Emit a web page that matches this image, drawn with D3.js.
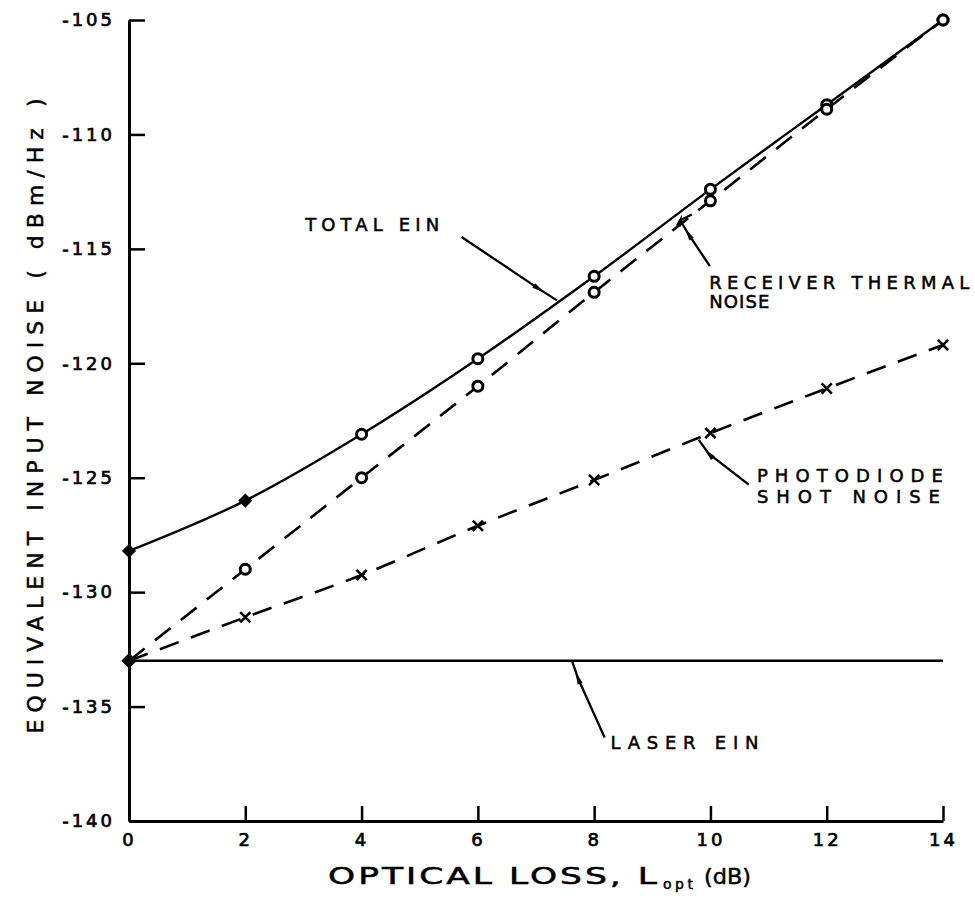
<!DOCTYPE html>
<html><head><meta charset="utf-8">
<script src="https://cdn.jsdelivr.net/npm/d3@7/dist/d3.min.js"></script>
<style>
html,body{margin:0;padding:0;background:#fff;}
svg text{font-family:"DejaVu Sans",sans-serif;fill:#000;}
</style></head>
<body>
<svg id="chart" width="975" height="903"></svg>
<script>
// ---- data ----
const xValues = [0, 2, 4, 6, 8, 10, 12, 14];
const totalEIN = [-128.2, -126.0, -123.1, -119.8, -116.2, -112.4, -108.7, -105.0];
const totalMarkers = ["diamond","diamond","circle","circle","circle","circle","circle","circle"];
const receiverThermal = [-133.0, -129.0, -125.0, -121.0, -116.9, -112.9, -108.9, -105.0];
const receiverMarkers = ["none","circle","circle","circle","circle","circle","circle","circle"];
const shotNoise = [-133.0, -131.1, -129.25, -127.1, -125.1, -123.05, -121.1, -119.2];
const shotMarkers = ["none","cross","cross","cross","cross","cross","cross","cross"];
const laserX = [0, 14];
const laserEIN = [-133.0, -133.0];
const xTicks = [0, 2, 4, 6, 8, 10, 12, 14];
const yTicks = [-140, -135, -130, -125, -120, -115, -110, -105];

const svg = d3.select("#chart");
const x = d3.scaleLinear().domain([0, 14]).range([129, 943]);
const y = d3.scaleLinear().domain([-140, -105]).range([821, 20]);

// ---- axes ----
const yAxis = d3.axisLeft(y).tickValues(yTicks).tickSizeInner(-16).tickSizeOuter(0).tickPadding(16)
  .tickFormat(d => String(d));
const xAxis = d3.axisBottom(x).tickValues(xTicks).tickSizeInner(-15).tickSizeOuter(0).tickPadding(12)
  .tickFormat(d => String(d));

const gy = svg.append("g").attr("transform", `translate(${x(0)},0)`).call(yAxis);
const gx = svg.append("g").attr("transform", `translate(0,${y(-140)})`).call(xAxis);
[gx, gy].forEach(g => {
  g.selectAll(".domain").attr("stroke", "#000").attr("stroke-width", 3);
  g.selectAll(".tick line").attr("stroke", "#000").attr("stroke-width", 2.5);
  g.selectAll(".tick text").attr("font-size", 18).attr("letter-spacing", 3)
    .attr("stroke", "#000").attr("stroke-width", 0.7).attr("fill", "#000");
});
gy.selectAll(".tick text").attr("dx", 2);

// ---- lines ----
function series(vals, xs) { return xs.map((xv, i) => [xv, vals[i]]); }
const straight = d3.line().x(d => x(d[0])).y(d => y(d[1]));
const curved = d3.line().curve(d3.curveMonotoneX).x(d => x(d[0])).y(d => y(d[1]));

svg.append("path").datum(series(laserEIN, laserX)).attr("d", straight)
  .attr("fill", "none").attr("stroke", "#000").attr("stroke-width", 2.6);
svg.append("path").datum(series(totalEIN, xValues)).attr("d", curved)
  .attr("fill", "none").attr("stroke", "#000").attr("stroke-width", 2.4);
svg.append("path").datum(series(receiverThermal, xValues)).attr("d", curved)
  .attr("fill", "none").attr("stroke", "#000").attr("stroke-width", 2.6).attr("stroke-dasharray", "20 13");
svg.append("path").datum(series(shotNoise, xValues)).attr("d", curved)
  .attr("fill", "none").attr("stroke", "#000").attr("stroke-width", 2.6).attr("stroke-dasharray", "20 13");

// ---- markers ----
function diamond(cx, cy, size) {
  svg.append("path").attr("d", d3.symbol(d3.symbolSquare, size)())
    .attr("transform", `translate(${cx},${cy}) rotate(45)`).attr("fill", "#000");
}
function drawMarkers(vals, kinds) {
  const g = svg.append("g");
  xValues.forEach((xv, i) => {
    const cx = x(xv), cy = y(vals[i]);
    if (kinds[i] === "circle") {
      g.append("circle").attr("cx", cx).attr("cy", cy).attr("r", 5)
        .attr("fill", "#fff").attr("stroke", "#000").attr("stroke-width", 3);
    } else if (kinds[i] === "diamond") {
      diamond(cx, cy, 100);
    } else if (kinds[i] === "cross") {
      g.append("path").attr("d", d3.symbol(d3.symbolX, 70)())
        .attr("transform", `translate(${cx},${cy})`).attr("fill", "none")
        .attr("stroke", "#000").attr("stroke-width", 2.6);
    }
  });
}
drawMarkers(totalEIN, totalMarkers);
drawMarkers(receiverThermal, receiverMarkers);
drawMarkers(shotNoise, shotMarkers);
diamond(x(laserX[0]), y(laserEIN[0]), 120);

// ---- annotations (data coordinates) ----
const defs = svg.append("defs");
defs.append("marker").attr("id", "ah").attr("viewBox", "0 0 14 8").attr("refX", 7).attr("refY", 4)
  .attr("markerWidth", 13).attr("markerHeight", 7).attr("markerUnits", "userSpaceOnUse").attr("orient", "auto")
  .append("path").attr("d", "M0,1 L14,4 L0,7 Z").attr("fill", "#000");

function arrow(pts) {
  const p = pts.map(d => [x(d[0]), y(d[1])]);
  svg.append("path").attr("d", d3.line()(p)).attr("fill", "none")
    .attr("stroke", "#000").attr("stroke-width", 2.3).attr("marker-mid", "url(#ah)");
}
function label(lines, widths, xd, yd, dyPx) {
  const g = svg.append("g");
  lines.forEach((s, i) => g.append("text").attr("x", x(xd)).attr("y", y(yd) + i * dyPx)
    .attr("font-size", 18).attr("stroke", "#000").attr("stroke-width", 0.5)
    .attr("textLength", widths[i]).attr("lengthAdjust", "spacing").text(s));
}

// TOTAL EIN
label(["TOTAL EIN"], [134], 3.03, -114.2, 0);
arrow([[5.72, -114.48], [7.05, -116.75], [7.36, -117.25]]);
// RECEIVER THERMAL NOISE
label(["RECEIVER THERMAL", "NOISE"], [260, 60], 9.98, -116.75, 19);
arrow([[9.99, -115.75], [9.62, -114.35], [9.48, -113.75], [9.68, -113.5]]);
// PHOTODIODE SHOT NOISE
label(["PHOTODIODE", "SHOT NOISE"], [186, 183], 10.8, -125.2, 21);
arrow([[10.66, -125.3], [9.97, -123.95], [9.8, -123.35]]);
// LASER EIN
label(["LASER EIN"], [148], 8.28, -136.85, 0);
arrow([[8.18, -136.35], [7.72, -133.75], [7.62, -133.0]]);

// ---- axis titles ----
const xtitle = svg.append("g").attr("stroke", "#000").attr("stroke-width", 0.5);
xtitle.append("text").attr("x", 328).attr("y", 884).attr("font-size", 23).attr("letter-spacing", 2)
  .attr("textLength", 332).attr("lengthAdjust", "spacingAndGlyphs").text("OPTICAL LOSS, L");
xtitle.append("text").attr("x", 663).attr("y", 889).attr("font-size", 14)
  .attr("textLength", 30).attr("lengthAdjust", "spacing").text("opt");
xtitle.append("text").attr("x", 704).attr("y", 884).attr("font-size", 22)
  .attr("textLength", 47).attr("lengthAdjust", "spacingAndGlyphs").text("(dB)");

svg.append("text").attr("transform", "translate(43,416) rotate(-90)").attr("text-anchor", "middle")
  .attr("font-size", 22).attr("stroke", "#000").attr("stroke-width", 0.5)
  .attr("textLength", 635).attr("lengthAdjust", "spacing")
  .text("EQUIVALENT INPUT NOISE ( dBm/Hz )");
</script>
</body></html>
